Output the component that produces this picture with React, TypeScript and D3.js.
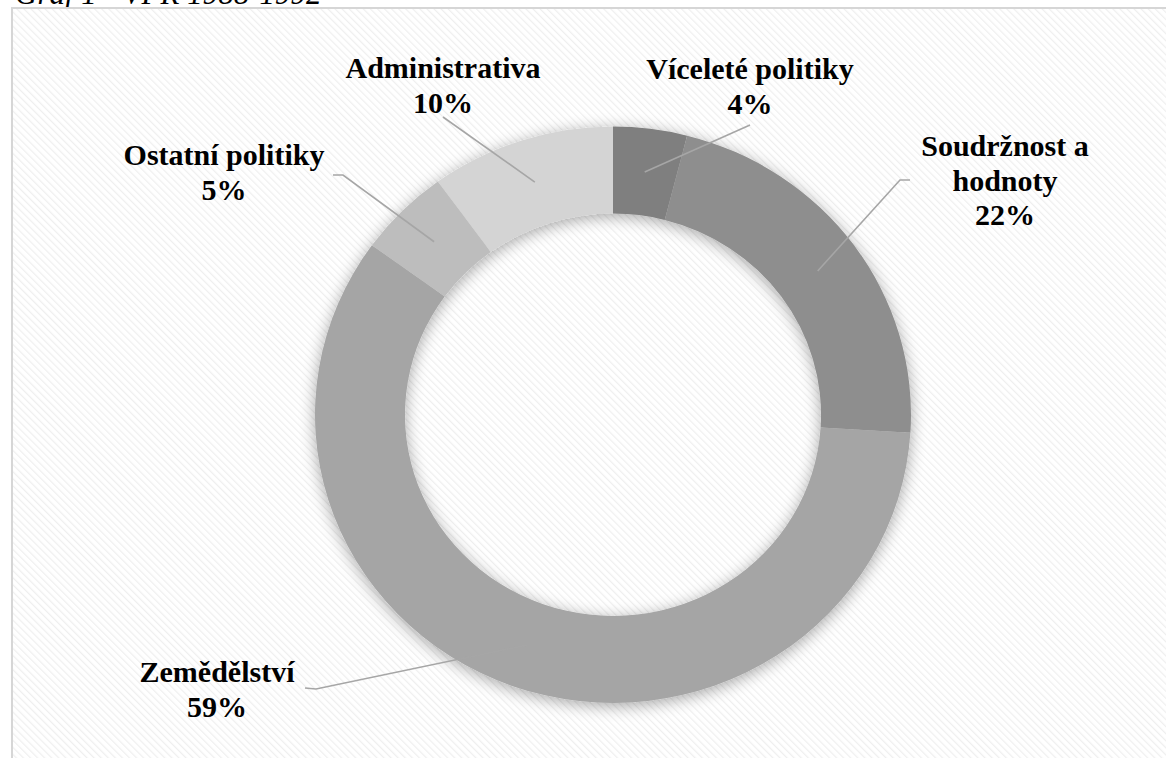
import React from 'react';
import * as d3 from 'd3';

const title = 'Graf 1 - VFR 1988-1992';
const categories = ['Víceleté politiky', 'Soudržnost a hodnoty', 'Zemědělství', 'Ostatní politiky', 'Administrativa'];
const values = [4, 22, 59, 5, 10];
const colors = ['#7f7f7f', '#8e8e8e', '#a5a5a5', '#bdbdbd', '#d4d4d4'];
const labelLines = [['Víceleté politiky'], ['Soudržnost a', 'hodnoty'], ['Zemědělství'], ['Ostatní politiky'], ['Administrativa']];

// layout (positions only)
const W = 1166, H = 758;
const CX = 613, CY = 414.75, R_OUT = 298, R_IN = 208, SY = 0.967;
const LINE_H = 34.5;
const labelLayout = [
  { x: 750, y: 79, leader: [[750, 125]] },
  { x: 1005, y: 156, leader: [[910, 180], [900, 180]] },
  { x: 217, y: 682, leader: [[305, 688], [316, 689]] },
  { x: 224, y: 165, leader: [[333, 175], [343, 175]] },
  { x: 443, y: 78, leader: [[443, 117]] },
];

export default function App() {
  const total = d3.sum(values);
  const pie = d3.pie<number>().sort(null).value((d) => d)(values);
  const arc = d3.arc<d3.PieArcDatum<number>>().innerRadius(R_IN).outerRadius(R_OUT);
  const mid = d3.arc<d3.PieArcDatum<number>>().innerRadius((R_IN + R_OUT) / 2).outerRadius((R_IN + R_OUT) / 2);
  const line = d3.line();

  return (
    <div style={{ position: 'absolute', left: 0, top: 0 }}>
      <svg width={W} height={H} style={{ display: 'block' }} fontFamily="'Liberation Serif', 'Times New Roman', serif">
        <defs>
          <pattern id="hatch" width="5" height="5" patternUnits="userSpaceOnUse" patternTransform="rotate(-45)">
            <rect width="5" height="5" fill="#ffffff" />
            <line x1="0" y1="0" x2="0" y2="5" stroke="#efefef" strokeWidth="2.5" />
          </pattern>
          <filter id="shadow" x="-20%" y="-20%" width="140%" height="140%">
            <feGaussianBlur in="SourceAlpha" stdDeviation="8" result="blur" />
            <feOffset in="blur" dx="0" dy="3" result="off" />
            <feComponentTransfer in="off" result="soft">
              <feFuncA type="linear" slope="0.35" />
            </feComponentTransfer>
            <feMerge>
              <feMergeNode in="soft" />
              <feMergeNode in="SourceGraphic" />
            </feMerge>
          </filter>
        </defs>
        <rect x={0} y={0} width={W} height={H} fill="#ffffff" />
        <text x={15} y={4} fontSize={31} fontStyle="italic" fill="#000">{title}</text>
        <rect x={12} y={8} width={W + 20} height={H + 20} fill="url(#hatch)" stroke="#d6d6d6" strokeWidth={2} />
        <g filter="url(#shadow)">
          <g transform={`translate(${CX},${CY}) scale(1,${SY})`}>
            {pie.map((d, i) => (
              <path key={categories[i]} d={arc(d) || ''} fill={colors[i]} />
            ))}
          </g>
        </g>
        {pie.map((d, i) => {
          const c = mid.centroid(d);
          const end: [number, number] = [CX + c[0], CY + c[1] * SY];
          const pts = [...labelLayout[i].leader, end] as [number, number][];
          return <path key={'l' + i} d={line(pts) || ''} fill="none" stroke="#a6a6a6" strokeWidth={1.6} />;
        })}
        {pie.map((d, i) => {
          const L = labelLayout[i];
          const lines = [...labelLines[i], `${Math.round((d.value / total) * 100)}%`];
          return (
            <text key={'t' + i} x={L.x} y={L.y} textAnchor="middle" fontSize={30} fontWeight="bold" fill="#000">
              {lines.map((s, k) => (
                <tspan key={k} x={L.x} y={L.y + k * LINE_H}>{s}</tspan>
              ))}
            </text>
          );
        })}
      </svg>
    </div>
  );
}
